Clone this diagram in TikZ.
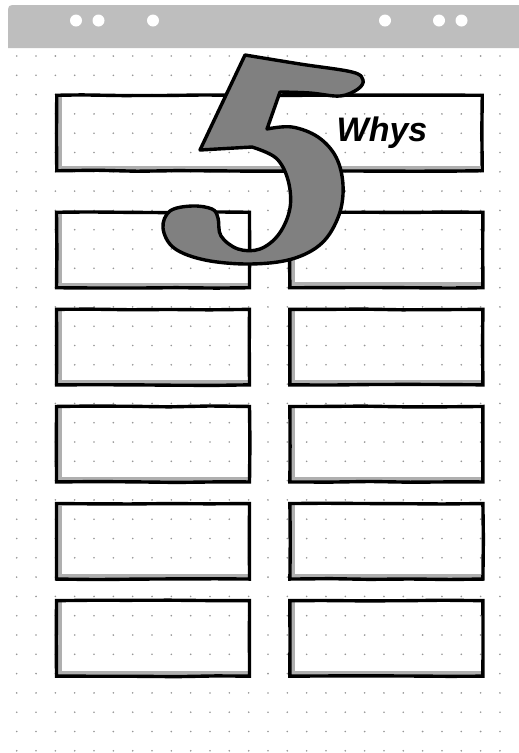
\documentclass[tikz,border=0pt]{standalone}
\usepackage{fontspec}
\newfontfamily\whysfont{Liberation Sans}
\usetikzlibrary{positioning, decorations.pathmorphing}
\definecolor{headgray}{RGB}{190,190,190}
\definecolor{dotgray}{RGB}{150,150,150}
\definecolor{shadegray}{RGB}{175,175,175}
\definecolor{fivegray}{RGB}{128,128,128}

\begin{document}
\begin{tikzpicture}[
        x=1pt, y=-1pt,
        node distance=18.2pt and 37pt,
        whybox/.style={draw, line width=3.4pt, minimum width=193pt, minimum height=75.5pt, inner sep=0pt,
            decorate, decoration={random steps, segment length=40pt, amplitude=0.5pt},
            path picture={\draw[shadegray, line width=4pt]
                ([xshift=3.5pt, yshift=-2pt]path picture bounding box.north west) --
                ([xshift=3.5pt, yshift=3.5pt]path picture bounding box.south west) --
                ([xshift=-2pt, yshift=3.5pt]path picture bounding box.south east);}},
        five/.style={draw=black, fill=fivegray, line width=3.4pt, line join=round},
        whys/.style={font=\whysfont\bfseries\itshape\fontsize{34}{34}\selectfont},
    ]

    \useasboundingbox[fill=white] (0,0) rectangle (519,753);

    % Header
    \fill[headgray] (8,48) -- (8,14) .. controls (8,5) .. (17,5) -- (519,5) -- (519,48) -- cycle;
    \foreach \hx in {76,98.5,153,385,439,461.5}
        \fill[white] (\hx,20.5) circle (6pt);

    % Dot grid
    \foreach \i in {0,...,25}
        \foreach \j in {0,...,36}
            \fill[dotgray] ({16.7+19.33*\i},{56+19.3*\j}) circle (0.9pt);

    % Boxes
    \node[whybox, minimum width=425.5pt] (title) at (269.5,133) {};
    \node[whybox] (why1l) at (153,250) {};
    \node[whybox, right=of why1l] (why1r) {};
    \node[whybox, below=of why1l] (why2l) {};
    \node[whybox, right=of why2l] (why2r) {};
    \node[whybox, below=of why2l] (why3l) {};
    \node[whybox, right=of why3l] (why3r) {};
    \node[whybox, below=of why3l] (why4l) {};
    \node[whybox, right=of why4l] (why4r) {};
    \node[whybox, below=of why4l] (why5l) {};
    \node[whybox, right=of why5l] (why5r) {};

    % Big five
    \draw[five] plot[smooth, tension=0.6] coordinates {(245,55) (300,64) (352,72) (363,80) (358,89) (340,96) (310,93) (280,92)}
        -- plot[smooth, tension=0.6] coordinates {(267,129) (292,127) (318,137) (336,157) (343,185) (339,215) (322,243) (292,259) (250,264) (205,260) (174,248) (163,228) (170,211) (192,206) (212,209) (218,218) (221,236) (238,249) (260,249) (279,234) (290,208) (288,180) (276,158) (252,147)}
        -- (200,150) -- cycle;

    \node[whys] (whys) at (382,133) {Whys};

\end{tikzpicture}
\end{document}
